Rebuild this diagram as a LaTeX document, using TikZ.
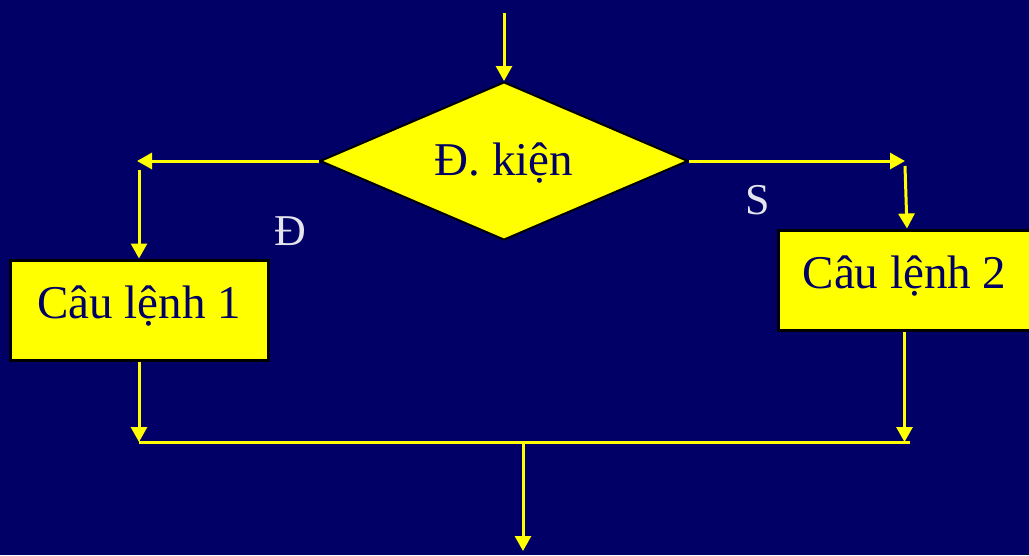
\documentclass[tikz,border=0pt]{standalone}
\usepackage{fontspec}
\setmainfont{Liberation Serif}
\usetikzlibrary{arrows.meta,shapes.geometric}
\definecolor{navy}{RGB}{0,0,102}
\definecolor{flowyellow}{RGB}{255,255,0}
\definecolor{labelgray}{RGB}{228,228,236}
\begin{document}
\begin{tikzpicture}[x=1pt,y=-1pt,
  flow/.style={draw=flowyellow,line width=3pt},
  arr/.style={flow,-{Triangle[length=15pt,width=16pt]}},
  bigtext/.style={font=\fontsize{47}{51}\selectfont},
  decision/.style={diamond,draw=black,line width=2pt,fill=flowyellow,text=navy,
    aspect=2.33,minimum width=368pt,minimum height=158pt,inner sep=0pt,
    text height=34pt,text depth=6pt,bigtext},
  stmt/.style={rectangle,draw=black,line width=3pt,fill=flowyellow,text=navy,
    minimum height=100pt,inner sep=0pt,text height=30pt,text depth=14pt,bigtext},
  branch/.style={text=labelgray,inner sep=0pt,font=\fontsize{44}{48}\selectfont}
]
  % background
  \fill[navy] (0,0) rectangle (1029,555);
  \useasboundingbox (0,0) rectangle (1029,555);

  % nodes
  \node[decision] (cond) at (504,161) {Đ. kiện};
  \node[stmt,minimum width=258pt] (box1) at (139,310) {Câu lệnh 1};
  \node[stmt,minimum width=253pt] (box2) at (904.5,280) {Câu lệnh 2};
  \node[branch] (yes) at (290,231) {Đ};
  \node[branch] (no) at (758,200) {S};

  % free ends of the connectors
  \coordinate (top) at (504,13);
  \coordinate (lcorner) at (137,161);
  \coordinate (ldrop) at (139,170);
  \coordinate (rcorner) at (905,161);
  \coordinate (rdrop) at (905,166);
  \coordinate (jl) at (139,442);
  \coordinate (jr) at (904.5,442);
  \coordinate (jend) at (910,442);
  \coordinate (jm) at (523,442);
  \coordinate (bend) at (523,551);

  % connectors
  \draw[arr] (top) -- (cond.north);
  \draw[arr] (cond.west) -- (lcorner);
  \draw[arr] (ldrop) -- (box1.north);
  \draw[arr] (cond.east) -- (rcorner);
  \draw[arr] (rdrop) -- ([xshift=2.5pt]box2.north);
  \draw[arr] (box1.south) -- (jl);
  \draw[arr] (box2.south) -- (jr);
  \draw[flow] (jl) -- (jend);
  \draw[arr] (jm) -- (bend);
\end{tikzpicture}
\end{document}
